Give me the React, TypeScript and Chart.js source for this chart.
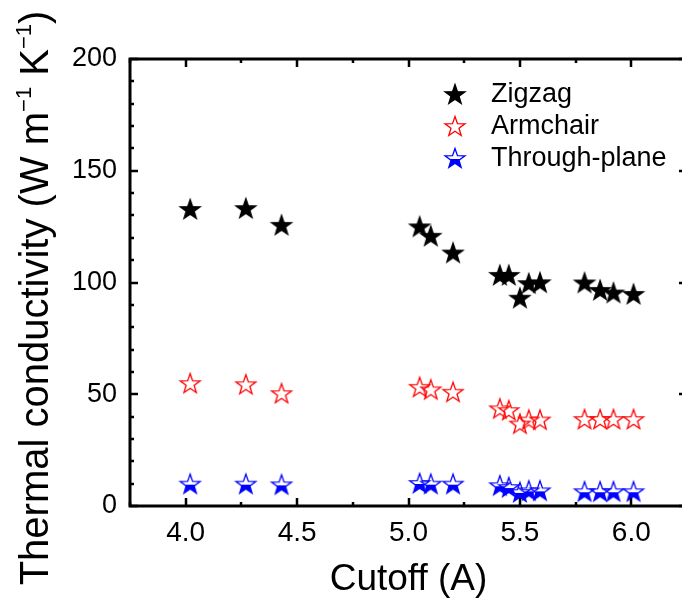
import React, { useEffect, useRef } from "react";
import { Chart, registerables } from "chart.js";

Chart.register(...registerables);

// ---- data ----
const cutoff = [4.02, 4.27, 4.43, 5.05, 5.1, 5.2, 5.41, 5.45, 5.5, 5.54, 5.59, 5.79, 5.86, 5.92, 6.01];
const zigzag = [132.9, 133.3, 125.8, 125.1, 120.9, 113.4, 103.4, 103.4, 93.2, 99.7, 100.1, 100.0, 96.7, 95.5, 94.9];
const armchair = [55.0, 54.5, 50.5, 53.3, 52.2, 51.1, 43.7, 42.9, 36.9, 38.7, 38.7, 38.9, 38.9, 38.9, 38.9];
const throughPlane = [10.0, 10.0, 9.7, 10.3, 10.0, 10.0, 9.3, 8.5, 6.3, 7.0, 7.0, 6.6, 6.6, 6.6, 6.6];
const seriesLabels = ["Zigzag", "Armchair", "Through-plane"];

const xTickValues = [4.0, 4.5, 5.0, 5.5, 6.0];
const xTickLabels = ["4.0", "4.5", "5.0", "5.5", "6.0"];
const yTickValues = [0, 50, 100, 150, 200];
const yTickLabels = ["0", "50", "100", "150", "200"];
const xMin = 3.75;
const xMax = 6.25;
const yMin = 0;
const yMax = 200;
const xTitle = "Cutoff (A)";
const yTitleMain = "Thermal conductivity (W m";
const yTitleMid = " K";
const yTitleEnd = ")";
const yTitleSup = "\u22121";

const FONT = "'Liberation Sans', Arial, Helvetica, sans-serif";

function makeStar(mode: "filled" | "hollow" | "half", color: string): HTMLCanvasElement {
  const size = 26;
  const c = document.createElement("canvas");
  c.width = size;
  c.height = size;
  const ctx = c.getContext("2d")!;
  const cx = size / 2;
  const R = 10.5;
  const r = R * 0.4;
  const cy = size / 2 + 1;
  const path = () => {
    ctx.beginPath();
    for (let k = 0; k < 10; k++) {
      const a = -Math.PI / 2 + (k * Math.PI) / 5;
      const rad = k % 2 === 0 ? R : r;
      const px = cx + rad * Math.cos(a);
      const py = cy + rad * Math.sin(a);
      if (k === 0) ctx.moveTo(px, py);
      else ctx.lineTo(px, py);
    }
    ctx.closePath();
  };
  ctx.lineJoin = "miter";
  ctx.lineWidth = 1.3;
  ctx.strokeStyle = color;
  ctx.fillStyle = color;
  if (mode === "filled") {
    path();
    ctx.fill();
  } else if (mode === "half") {
    ctx.save();
    ctx.beginPath();
    ctx.rect(0, cy, size, size);
    ctx.clip();
    path();
    ctx.fill();
    ctx.restore();
  }
  path();
  ctx.stroke();
  return c;
}

const framePlugin = {
  id: "frame",
  afterDatasetsDraw(chart: any) {
    const { ctx, chartArea } = chart;
    const { left, right, top, bottom } = chartArea;
    const xs = chart.scales.x;
    const ys = chart.scales.y;
    ctx.save();
    ctx.strokeStyle = "#000";
    ctx.lineCap = "butt";
    const major = 8;
    const minor = 4;
    ctx.lineWidth = 2.5;
    // x ticks (top and bottom, inward)
    for (let v = xMin; v <= xMax + 1e-9; v += 0.25) {
      const px = Math.round(xs.getPixelForValue(v));
      const isMajor = xTickValues.some((t) => Math.abs(t - v) < 1e-6);
      const len = isMajor ? major : minor;
      ctx.beginPath();
      ctx.moveTo(px, bottom);
      ctx.lineTo(px, bottom - len);
      ctx.moveTo(px, top);
      ctx.lineTo(px, top + len);
      ctx.stroke();
    }
    // y ticks (left and right, inward)
    for (let v = yMin; v <= yMax + 1e-9; v += 10) {
      const py = Math.round(ys.getPixelForValue(v));
      const isMajor = yTickValues.some((t) => Math.abs(t - v) < 1e-6);
      const len = isMajor ? major : minor;
      ctx.beginPath();
      ctx.moveTo(left, py);
      ctx.lineTo(left + len, py);
      ctx.moveTo(right, py);
      ctx.lineTo(right - len, py);
      ctx.stroke();
    }
    // frame
    ctx.lineWidth = 3;
    ctx.lineCap = "square";
    ctx.beginPath();
    ctx.moveTo(left, top);
    ctx.lineTo(right, top);
    ctx.lineTo(right, bottom);
    ctx.lineTo(left, bottom);
    ctx.closePath();
    ctx.stroke();
    ctx.restore();
  },
  afterDraw(chart: any) {
    const { ctx } = chart;
    ctx.save();
    ctx.fillStyle = "#000";
    // legend
    const datasets = chart.data.datasets;
    ctx.font = `27px ${FONT}`;
    ctx.textBaseline = "middle";
    ctx.textAlign = "left";
    datasets.forEach((ds: any, i: number) => {
      const cy = 94 + i * 32;
      const img = ds.pointStyle as HTMLCanvasElement;
      ctx.drawImage(img, 455 - img.width / 2, cy - img.height / 2);
      ctx.fillText(ds.label, 491, cy + 1);
    });
    // x title
    const ca = chart.chartArea;
    ctx.font = `37px ${FONT}`;
    ctx.textAlign = "center";
    ctx.textBaseline = "alphabetic";
    ctx.fillText(xTitle, (ca.left + ca.right) / 2, 590);
    // y title (rotated, with superscripts)
    const F = 40;
    const FS = 22;
    const mainFont = `${F}px ${FONT}`;
    const supFont = `${FS}px ${FONT}`;
    ctx.font = mainFont;
    const w1 = ctx.measureText(yTitleMain).width;
    const w3 = ctx.measureText(yTitleMid).width;
    const w5 = ctx.measureText(yTitleEnd).width;
    ctx.font = supFont;
    const ws = ctx.measureText(yTitleSup).width;
    const total = w1 + ws + w3 + ws + w5;
    ctx.translate(48, 298);
    ctx.rotate(-Math.PI / 2);
    ctx.textAlign = "left";
    let pos = -total / 2;
    ctx.font = mainFont;
    ctx.fillText(yTitleMain, pos, 0);
    pos += w1;
    ctx.font = supFont;
    ctx.fillText(yTitleSup, pos, -F * 0.42);
    pos += ws;
    ctx.font = mainFont;
    ctx.fillText(yTitleMid, pos, 0);
    pos += w3;
    ctx.font = supFont;
    ctx.fillText(yTitleSup, pos, -F * 0.42);
    pos += ws;
    ctx.font = mainFont;
    ctx.fillText(yTitleEnd, pos, 0);
    ctx.restore();
  },
};

export default function App() {
  const ref = useRef<HTMLCanvasElement | null>(null);
  useEffect(() => {
    if (!ref.current) return;
    const black = makeStar("filled", "#000000");
    const red = makeStar("hollow", "#ff0000");
    const blue = makeStar("half", "#0000ff");
    const toPts = (ys: number[]) => cutoff.map((x, i) => ({ x, y: ys[i] }));
    const chart = new Chart(ref.current, {
      type: "scatter",
      data: {
        datasets: [
          { label: seriesLabels[0], data: toPts(zigzag), pointStyle: black as any, pointRadius: 10 },
          { label: seriesLabels[1], data: toPts(armchair), pointStyle: red as any, pointRadius: 10 },
          { label: seriesLabels[2], data: toPts(throughPlane), pointStyle: blue as any, pointRadius: 10 },
        ],
      },
      options: {
        animation: false,
        responsive: false,
        maintainAspectRatio: false,
        layout: { padding: { left: 0, right: 13, top: 59, bottom: 0 } },
        plugins: { legend: { display: false }, tooltip: { enabled: false } },
        scales: {
          x: {
            type: "linear",
            min: xMin,
            max: xMax,
            grid: { display: false, drawTicks: false },
            border: { display: false },
            afterBuildTicks: (s: any) => {
              s.ticks = xTickValues.map((v) => ({ value: v }));
            },
            afterFit: (s: any) => {
              s.height = 94;
            },
            ticks: {
              autoSkip: false,
              maxRotation: 0,
              padding: 10,
              color: "#000",
              font: { family: FONT, size: 28 },
              callback: (v: any) => {
                const i = xTickValues.findIndex((t) => Math.abs(t - Number(v)) < 1e-6);
                return i >= 0 ? xTickLabels[i] : "";
              },
            },
          },
          y: {
            type: "linear",
            min: yMin,
            max: yMax,
            grid: { display: false, drawTicks: false },
            border: { display: false },
            afterBuildTicks: (s: any) => {
              s.ticks = yTickValues.map((v) => ({ value: v }));
            },
            afterFit: (s: any) => {
              s.width = 130;
            },
            ticks: {
              autoSkip: false,
              padding: 13,
              color: "#000",
              font: { family: FONT, size: 27 },
              callback: (v: any) => {
                const i = yTickValues.findIndex((t) => Math.abs(t - Number(v)) < 1e-6);
                return i >= 0 ? yTickLabels[i] : "";
              },
            },
          },
        },
      },
      plugins: [framePlugin],
    });
    return () => chart.destroy();
  }, []);
  return (
    <div
      style={{
        position: "fixed",
        left: 0,
        top: 0,
        width: 682,
        height: 600,
        overflow: "hidden",
        background: "#fff",
      }}
    >
      <canvas ref={ref} width={700} height={600} style={{ display: "block" }} />
    </div>
  );
}
